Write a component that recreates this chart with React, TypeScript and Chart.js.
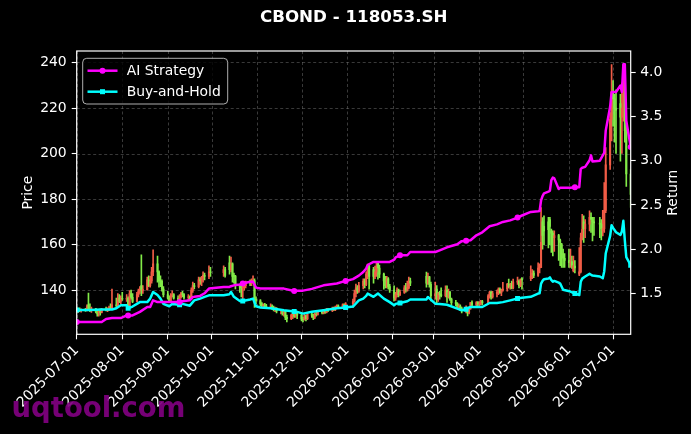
import React, { useEffect, useRef } from 'react';
import { Chart, registerables } from 'chart.js';
Chart.register(...registerables);

const FONT = "'DejaVu Sans', sans-serif";
const TITLE = 'CBOND - 118053.SH';
const WATERMARK = 'uqtool.com';
const LEFT_TITLE = 'Price';
const RIGHT_TITLE = 'Return';

const startDate = '2025-07-01';
const endDate = '2026-07-13';
const holidays = ['2025-10-01','2025-10-02','2025-10-03','2025-10-06','2025-10-07','2025-10-08','2026-01-01','2026-01-02','2026-02-16','2026-02-17','2026-02-18','2026-02-19','2026-02-20','2026-02-23','2026-04-06','2026-05-01','2026-05-04','2026-05-05','2026-06-19'];

// daily candles, one per trading day (grouped by month)
const opens = [
  131.5,130.8,131.5,130.9,131.2,131.0,133.5,131.5,131.0,131.8,130.5,129.8,130.8,130.2,131.5,131.2,131.8,132.2,131.8,133.5,133.0,136.5,135.0,
  136.4,136.0,136.4,133.0,138.5,136.8,135.0,138.0,139.5,142.0,140.0,140.2,144.5,142.0,144.0,148.0,151.5,148.0,144.0,143.8,140.5,
  138.0,136.5,135.3,137.5,138.0,136.5,136.0,137.2,138.5,138.0,136.8,137.0,136.0,140.0,142.0,141.5,144.5,144.0,145.5,146.5,146.0,148.0,
  147.7,149.0,152.0,149.0,151.5,146.5,146.0,142.0,141.3,141.0,141.3,142.0,143.5,143.0,144.0,144.2,136.0,
  135.3,134.0,133.2,133.5,133.0,132.8,133.0,132.2,131.5,132.0,130.8,131.0,129.8,130.8,128.0,127.5,129.0,129.5,128.5,130.0,
  129.0,127.2,127.0,128.8,127.5,129.5,129.0,128.0,129.5,129.2,130.5,130.0,130.8,130.2,131.5,131.0,132.0,131.5,132.5,133.0,132.5,133.5,133.0,
  134.0,135.0,138.5,141.0,139.5,142.0,144.0,142.5,147.0,151.0,149.0,146.0,148.0,152.0,149.7,147.0,144.0,142.0,145.0,141.5,
  140.0,136.4,138.0,140.0,138.0,139.0,141.0,140.0,141.0,144.0,146.0,143.0,145.8,142.5,
  137.5,140.5,136.0,138.5,138.0,137.5,140.0,137.0,139.0,136.0,134.5,134.0,132.7,133.0,131.8,130.8,132.0,130.0,132.0,134.5,133.5,134.5,
  133.8,134.0,135.0,134.5,137.5,139.0,137.0,138.5,139.0,140.5,139.0,140.0,140.5,142.5,141.5,142.0,141.0,143.5,144.0,142.0,145.0,
  145.0,146.0,147.5,146.5,149.7,150.0,170.0,168.0,170.0,171.0,166.0,165.0,163.0,164.0,162.0,160.0,156.0,154.0,
  153.0,152.0,152.5,148.5,150.5,147.0,148.0,163.0,170.0,167.0,169.0,172.0,171.0,170.0,169.5,169.0,166.0,167.0,175.0,195.0,215.0,
  227.0,224.0,220.0,222.0,216.0,220.0,232.0,210.0,191.0,
];
const highs = [
  132.5,132.0,132.2,131.8,132.0,133.5,138.7,134.0,132.5,132.0,131.5,131.0,131.8,132.0,132.5,132.2,133.0,134.0,140.4,136.5,138.5,138.0,137.5,
  139.0,138.0,137.0,139.8,140.0,138.5,139.0,140.5,141.5,155.5,142.0,145.7,146.3,146.0,150.0,157.7,155.0,148.5,146.3,144.5,141.5,
  139.5,137.5,138.5,139.7,138.5,137.5,138.0,139.0,139.5,138.5,138.0,137.5,141.0,143.5,143.0,145.7,145.5,146.0,148.0,147.5,150.7,150.0,
  150.7,150.0,155.0,154.5,152.0,147.5,146.5,142.5,142.5,141.9,143.0,144.0,144.5,145.0,146.3,145.0,137.0,
  135.8,134.5,134.0,134.2,133.8,134.0,133.5,133.0,132.5,132.3,131.5,131.2,131.0,131.0,129.0,129.5,130.0,130.0,130.5,130.2,
  129.5,128.0,129.5,129.0,130.0,130.4,129.5,130.0,130.5,131.0,131.0,131.5,131.5,132.0,132.0,132.5,132.5,133.0,133.5,133.5,134.0,134.0,134.5,
  136.0,140.0,142.6,142.0,143.4,145.0,145.0,148.0,151.4,151.4,150.0,150.5,152.1,152.3,151.0,147.5,146.0,146.0,145.5,142.5,
  141.9,139.0,141.0,140.5,140.0,142.0,143.0,144.0,145.7,145.3,147.9,147.5,146.0,143.5,
  143.5,142.0,139.0,139.5,141.0,141.9,141.9,140.5,139.5,136.5,135.5,134.5,134.0,133.5,132.5,133.1,132.5,132.5,134.5,135.3,135.0,135.0,
  135.0,135.5,135.5,138.0,139.5,139.5,139.5,140.0,141.0,141.0,140.5,143.4,143.0,144.8,143.0,144.0,144.8,145.7,144.5,145.0,145.5,
  150.7,149.0,148.5,152.0,151.5,176.3,171.9,172.6,172.0,172.0,166.8,166.0,166.0,164.5,162.4,160.5,158.0,156.0,
  158.0,158.0,155.0,155.0,153.0,158.7,165.0,173.3,172.6,171.0,174.8,174.0,172.0,172.0,172.0,171.0,175.0,187.2,202.6,218.0,239.1,
  232.0,226.0,228.0,226.0,231.0,239.0,233.0,214.2,193.0,
];
const lows = [
  130.0,130.2,130.5,130.3,130.6,130.8,131.0,130.5,130.2,130.0,128.6,128.5,129.0,130.0,130.8,130.5,131.0,131.5,131.5,132.5,132.8,134.5,134.0,
  135.5,135.0,132.5,132.8,136.0,134.5,134.8,137.0,138.5,137.5,138.5,140.0,141.5,141.3,143.0,146.3,143.5,141.3,141.5,139.5,137.0,
  136.0,135.0,135.0,137.0,136.0,135.3,135.5,136.5,137.0,136.0,135.8,135.5,135.8,139.0,140.5,141.0,142.5,142.0,143.5,144.5,145.0,146.0,
  146.0,145.7,147.0,148.0,143.5,143.0,140.5,139.0,137.0,136.0,140.0,141.0,142.0,142.0,143.0,132.4,134.0,
  133.0,132.5,132.0,132.5,131.8,132.0,131.5,130.8,130.5,130.0,129.5,129.0,128.5,127.0,126.0,127.0,127.5,128.0,128.0,127.5,
  126.5,126.0,126.8,126.5,127.0,128.0,127.0,127.5,128.5,129.0,129.5,129.5,129.8,130.0,130.5,130.5,131.0,131.0,132.0,131.8,132.0,132.5,132.5,
  132.4,134.6,137.0,138.5,139.0,140.5,141.0,142.0,145.0,140.4,143.0,145.0,146.0,144.8,145.5,140.4,141.0,141.0,140.5,139.0,
  135.3,135.5,137.0,137.0,137.5,138.5,139.1,139.5,140.5,142.0,141.3,142.5,141.3,135.3,
  136.0,134.5,135.0,136.0,137.0,137.0,134.6,136.5,135.5,133.5,133.0,132.0,131.5,131.0,130.0,130.0,128.7,129.5,131.5,133.0,132.5,133.0,
  133.0,133.5,133.5,134.0,136.5,136.0,136.5,137.0,138.0,138.5,137.5,139.5,139.5,141.0,140.4,140.5,140.5,142.5,141.0,141.5,140.4,
  144.1,145.0,145.5,146.0,147.5,149.9,158.0,160.0,158.5,160.0,156.5,155.0,157.0,153.0,150.7,150.0,150.0,150.0,
  150.0,150.0,149.5,148.0,147.5,146.3,147.5,162.0,160.9,163.0,166.0,165.3,161.6,164.0,163.0,162.0,163.8,165.3,174.0,193.0,205.5,
  212.0,205.0,200.0,196.7,200.0,214.2,205.0,185.6,176.3,
];
const closes = [
  130.8,131.5,130.9,131.2,131.0,132.8,131.5,131.0,131.8,130.5,129.5,130.8,130.2,131.5,131.2,131.8,132.2,131.8,133.5,133.0,136.5,135.0,136.4,
  136.0,136.4,133.0,138.5,136.8,135.0,138.0,139.5,140.0,140.0,140.2,144.5,142.0,144.0,148.0,151.5,148.0,144.0,143.8,140.5,138.0,
  136.5,135.3,137.5,138.0,136.5,136.0,137.2,138.5,138.0,136.8,137.0,136.0,140.0,142.0,141.5,144.5,144.0,145.5,146.5,146.0,148.0,147.7,
  149.0,146.5,149.0,151.5,146.0,146.0,142.0,141.3,141.0,141.3,142.0,143.5,143.0,144.0,144.2,136.0,135.3,
  134.0,133.2,133.5,133.0,132.8,133.0,132.2,131.5,132.0,130.8,131.0,129.8,130.8,128.0,127.5,129.0,129.5,128.5,130.0,129.0,
  127.2,127.0,128.8,127.5,129.5,129.0,128.0,129.5,129.2,130.5,130.0,130.8,130.2,131.5,131.0,132.0,131.5,132.5,133.0,132.5,133.5,133.0,134.0,
  135.0,138.5,141.0,139.5,142.0,144.0,142.5,147.0,149.7,146.0,146.0,148.0,150.5,149.7,147.0,144.0,142.0,145.0,141.5,140.0,
  136.4,138.0,140.0,138.0,139.0,141.0,140.0,141.0,144.0,143.0,143.0,145.8,142.5,137.5,
  138.3,136.0,138.5,138.0,137.5,140.0,137.0,139.0,136.0,134.5,134.0,132.7,133.0,131.8,130.8,132.0,130.0,132.0,134.5,133.5,134.5,133.8,
  134.0,135.0,134.5,137.5,139.0,137.0,138.5,139.0,140.5,139.0,140.0,140.5,142.5,141.5,142.0,141.0,143.5,144.0,142.0,144.5,144.5,
  146.0,147.5,146.5,149.7,150.0,161.0,164.0,166.0,166.6,168.0,165.0,163.0,164.0,162.0,161.0,156.0,154.0,153.0,
  152.0,152.5,151.0,150.5,149.7,148.0,163.0,166.6,167.0,169.0,172.0,171.0,170.0,169.5,169.0,167.0,167.0,175.0,195.0,215.0,227.0,
  224.0,220.0,219.0,216.0,220.0,232.0,210.0,191.0,182.0,
];

// strategy curves (right axis)
const lineDates = ['2025-07-01','2025-07-10','2025-07-18','2025-07-21','2025-07-25','2025-07-28','2025-07-31','2025-08-04','2025-08-05','2025-08-08','2025-08-13','2025-08-18','2025-08-20','2025-08-22','2025-08-25','2025-08-27','2025-08-29','2025-09-02','2025-09-04','2025-09-09','2025-09-11','2025-09-16','2025-09-18','2025-09-19','2025-09-23','2025-09-26','2025-09-29','2025-10-09','2025-10-13','2025-10-14','2025-10-16','2025-10-20','2025-10-22','2025-10-27','2025-10-29','2025-10-31','2025-11-03','2025-11-10','2025-11-19','2025-11-26','2025-11-28','2025-12-02','2025-12-08','2025-12-16','2025-12-25','2025-12-31','2026-01-05','2026-01-09','2026-01-12','2026-01-14','2026-01-15','2026-01-19','2026-01-22','2026-01-26','2026-01-30','2026-02-02','2026-02-03','2026-02-06','2026-02-11','2026-02-13','2026-02-24','2026-02-25','2026-03-02','2026-03-05','2026-03-10','2026-03-17','2026-03-20','2026-03-23','2026-03-26','2026-03-30','2026-04-03','2026-04-08','2026-04-13','2026-04-17','2026-04-22','2026-04-27','2026-04-30','2026-05-06','2026-05-11','2026-05-12','2026-05-13','2026-05-14','2026-05-15','2026-05-18','2026-05-19','2026-05-20','2026-05-21','2026-05-22','2026-05-25','2026-05-26','2026-05-28','2026-06-02','2026-06-05','2026-06-08','2026-06-09','2026-06-10','2026-06-12','2026-06-15','2026-06-16','2026-06-17','2026-06-22','2026-06-24','2026-06-25','2026-06-26','2026-06-29','2026-06-30','2026-07-01','2026-07-03','2026-07-06','2026-07-07','2026-07-08','2026-07-09','2026-07-10','2026-07-13'];
const aiReturn = [1.175,1.175,1.175,1.21,1.22,1.22,1.22,1.25,1.25,1.25,1.29,1.345,1.345,1.42,1.40,1.40,1.40,1.40,1.40,1.40,1.41,1.42,1.458,1.46,1.47,1.50,1.553,1.572,1.572,1.58,1.59,1.60,1.61,1.63,1.63,1.564,1.555,1.553,1.553,1.526,1.53,1.53,1.55,1.59,1.61,1.64,1.66,1.70,1.74,1.78,1.82,1.855,1.855,1.855,1.855,1.88,1.905,1.93,1.93,1.967,1.967,1.967,1.967,1.986,2.02,2.055,2.09,2.095,2.10,2.156,2.19,2.258,2.28,2.307,2.325,2.356,2.38,2.42,2.428,2.43,2.55,2.60,2.63,2.65,2.66,2.78,2.81,2.80,2.68,2.695,2.695,2.695,2.70,2.70,2.907,2.92,2.93,3.005,3.06,2.99,3.00,3.06,3.09,3.34,3.61,3.777,3.777,3.777,3.85,3.777,4.09,4.09,3.45,3.155];
const bhReturn = [1.31,1.31,1.316,1.316,1.316,1.33,1.364,1.364,1.33,1.35,1.40,1.40,1.44,1.515,1.48,1.44,1.38,1.353,1.38,1.37,1.38,1.36,1.40,1.42,1.44,1.46,1.477,1.477,1.49,1.515,1.46,1.413,1.413,1.43,1.44,1.353,1.34,1.33,1.308,1.295,1.29,1.27,1.29,1.308,1.33,1.34,1.35,1.42,1.44,1.47,1.497,1.46,1.497,1.44,1.40,1.364,1.38,1.39,1.41,1.43,1.43,1.458,1.383,1.38,1.37,1.327,1.308,1.32,1.345,1.345,1.345,1.39,1.39,1.40,1.42,1.44,1.45,1.46,1.497,1.50,1.61,1.64,1.66,1.666,1.68,1.65,1.63,1.64,1.62,1.61,1.54,1.52,1.497,1.48,1.63,1.666,1.69,1.72,1.71,1.70,1.69,1.67,1.75,1.95,2.15,2.27,2.24,2.19,2.16,2.20,2.32,2.10,1.91,1.817];
const markerDates = ['2025-07-01','2025-08-05','2025-09-09','2025-10-22','2025-11-26','2025-12-31','2026-02-06','2026-03-23','2026-04-27','2026-06-05','2026-07-13'];

const monthTicks = ['2025-07-01','2025-08-01','2025-09-01','2025-10-01','2025-11-01','2025-12-01','2026-01-01','2026-02-01','2026-03-01','2026-04-01','2026-05-01','2026-06-01','2026-07-01'];
const priceTicks = [140, 160, 180, 200, 220, 240];
const returnTicks = [1.5, 2.0, 2.5, 3.0, 3.5, 4.0];

const dayOf = (s: string) => {
  const [y, m, d] = s.split('-').map(Number);
  return Math.round((Date.UTC(y, m - 1, d) - Date.UTC(2025, 6, 1)) / 86400000);
};

function buildTradingDays(): string[] {
  const out: string[] = [];
  const hol = new Set(holidays);
  const [sy, sm, sd] = startDate.split('-').map(Number);
  const [ey, em, ed] = endDate.split('-').map(Number);
  const end = Date.UTC(ey, em - 1, ed);
  for (let t = Date.UTC(sy, sm - 1, sd); t <= end; t += 86400000) {
    const dt = new Date(t);
    const wd = dt.getUTCDay();
    if (wd === 0 || wd === 6) continue;
    const s = dt.toISOString().slice(0, 10);
    if (hol.has(s)) continue;
    out.push(s);
  }
  return out;
}

const UP = 'rgb(240,92,70)';
const DOWN = 'rgb(130,235,72)';
const MAGENTA = '#ff00ff';
const CYAN = '#00ffff';

export default function App() {
  const ref = useRef<HTMLCanvasElement | null>(null);
  useEffect(() => {
    const canvas = ref.current;
    if (!canvas) return;
    const days = buildTradingDays();
    const n = Math.min(days.length, closes.length);
    const xs = days.slice(0, n).map(dayOf);
    const colors = xs.map((_, i) => (closes[i] >= opens[i] ? UP : DOWN));
    const markerSet = new Set(markerDates.map(dayOf));
    const lx = lineDates.map(dayOf);
    const tickLabel = new Map(monthTicks.map((s) => [dayOf(s), s]));

    const bgPlugin = {
      id: 'bg',
      beforeDraw(chart: any) {
        const c = chart.ctx;
        c.save();
        c.fillStyle = '#000';
        c.fillRect(0, 0, chart.width, chart.height);
        const ca = chart.chartArea;
        c.fillStyle = '#fff';
        c.font = `bold 16.7px ${FONT}`;
        c.textAlign = 'center';
        c.textBaseline = 'middle';
        c.fillText(TITLE, (ca.left + ca.right) / 2, 18);
        // axis titles, both reading bottom-to-top
        c.font = `13.9px ${FONT}`;
        const cy = (ca.top + ca.bottom) / 2;
        [[28, LEFT_TITLE], [673.5, RIGHT_TITLE]].forEach(([x, t]) => {
          c.save();
          c.translate(x as number, cy);
          c.rotate(-Math.PI / 2);
          c.fillText(t as string, 0, 0);
          c.restore();
        });
        c.restore();
      },
      beforeDatasetsDraw(chart: any) {
        const c = chart.ctx;
        const ca = chart.chartArea;
        const sx = chart.scales.x;
        const sy = chart.scales.y;
        c.save();
        c.strokeStyle = 'rgba(120,120,120,0.6)';
        c.lineWidth = 0.8;
        c.setLineDash([3, 2.5]);
        monthTicks.forEach((s) => {
          const px = Math.round(sx.getPixelForValue(dayOf(s))) + 0.5;
          c.beginPath();
          c.moveTo(px, ca.top);
          c.lineTo(px, ca.bottom);
          c.stroke();
        });
        priceTicks.forEach((v) => {
          const py = Math.round(sy.getPixelForValue(v)) + 0.5;
          c.beginPath();
          c.moveTo(ca.left, py);
          c.lineTo(ca.right, py);
          c.stroke();
        });
        c.restore();
      },
      afterDatasetsDraw(chart: any) {
        const c = chart.ctx;
        const ca = chart.chartArea;
        c.save();
        c.strokeStyle = '#fff';
        c.lineWidth = 1.2;
        c.strokeRect(ca.left, ca.top, ca.right - ca.left, ca.bottom - ca.top);
        // legend
        const bx = 82.7, by = 58.3, bw = 145, bh = 45.7;
        c.beginPath();
        c.roundRect(bx, by, bw, bh, 4);
        c.fillStyle = 'rgba(0,0,0,0.8)';
        c.fill();
        c.strokeStyle = 'rgba(204,204,204,0.85)';
        c.lineWidth = 1;
        c.stroke();
        const entries = [
          { label: 'AI Strategy', color: MAGENTA, y: 70.7, shape: 'circle' },
          { label: 'Buy-and-Hold', color: CYAN, y: 91.7, shape: 'square' },
        ];
        entries.forEach((e) => {
          c.strokeStyle = e.color;
          c.lineWidth = 2.5;
          c.beginPath();
          c.moveTo(87.5, e.y);
          c.lineTo(117.5, e.y);
          c.stroke();
          c.fillStyle = e.color;
          if (e.shape === 'circle') {
            c.beginPath();
            c.arc(102.5, e.y, 3, 0, Math.PI * 2);
            c.fill();
          } else {
            c.fillRect(100, e.y - 2.5, 5, 5);
          }
          c.fillStyle = '#fff';
          c.font = `13.9px ${FONT}`;
          c.textAlign = 'left';
          c.textBaseline = 'middle';
          c.fillText(e.label, 126.7, e.y + 0.5);
        });
        c.restore();
      },
      afterDraw(chart: any) {
        const c = chart.ctx;
        c.save();
        c.fillStyle = 'rgba(128,0,128,0.92)';
        c.font = `bold 27.5px ${FONT}`;
        c.textAlign = 'left';
        c.textBaseline = 'alphabetic';
        c.fillText(WATERMARK, 11.5, 416.5);
        c.restore();
      },
    };

    const tickFont = { family: FONT, size: 13.9 };
    const tickGrid = { display: true, offset: false, drawOnChartArea: false, drawTicks: true, tickLength: 5, tickColor: '#fff', tickWidth: 1.1 };
    const chart = new Chart(canvas, {
      type: 'bar',
      data: {
        datasets: [
          {
            type: 'line',
            label: 'AI Strategy',
            yAxisID: 'y1',
            data: lx.map((x, i) => ({ x, y: aiReturn[i] })),
            borderColor: MAGENTA,
            backgroundColor: MAGENTA,
            borderWidth: 2.5,
            borderJoinStyle: 'round',
            borderCapStyle: 'round',
            pointStyle: 'circle',
            pointRadius: lx.map((x) => (markerSet.has(x) ? 3 : 0)),
            pointBorderWidth: 0,
            tension: 0,
            order: 0,
          } as any,
          {
            type: 'line',
            label: 'Buy-and-Hold',
            yAxisID: 'y1',
            data: lx.map((x, i) => ({ x, y: bhReturn[i] })),
            borderColor: CYAN,
            backgroundColor: CYAN,
            borderWidth: 2.5,
            borderJoinStyle: 'round',
            borderCapStyle: 'round',
            pointStyle: 'rect',
            pointRadius: lx.map((x) => (markerSet.has(x) ? 3.5 : 0)),
            pointBorderWidth: 0,
            tension: 0,
            order: 1,
          } as any,
          {
            type: 'bar',
            label: 'wick',
            yAxisID: 'y',
            data: xs.map((x, i) => ({ x, y: [lows[i], highs[i]] })),
            backgroundColor: colors,
            barThickness: 1,
            grouped: false,
            order: 3,
          } as any,
          {
            type: 'bar',
            label: 'body',
            yAxisID: 'y',
            data: xs.map((x, i) => ({ x, y: [Math.min(opens[i], closes[i]), Math.max(opens[i], closes[i])] })),
            backgroundColor: colors,
            barThickness: 1.4,
            grouped: false,
            order: 2,
          } as any,
        ],
      },
      options: {
        responsive: false,
        animation: false,
        devicePixelRatio: 1,
        events: [],
        layout: { padding: { top: 51, left: 0, right: 0, bottom: 0 } },
        plugins: { legend: { display: false }, tooltip: { enabled: false }, title: { display: false } },
        scales: {
          x: {
            type: 'linear',
            min: 0,
            max: dayOf(endDate),
            offset: false,
            afterBuildTicks: (s: any) => { s.ticks = monthTicks.map((d) => ({ value: dayOf(d) })); },
            afterFit: (s: any) => { s.height = 99.7; },
            ticks: {
              color: '#fff',
              font: tickFont,
              autoSkip: false,
              maxRotation: 45,
              minRotation: 45,
              padding: 3,
              callback: (v: any) => tickLabel.get(Number(v)) ?? '',
            },
            grid: tickGrid,
            border: { display: false },
          },
          y: {
            type: 'linear',
            position: 'left',
            min: 120.58,
            max: 245.05,
            afterBuildTicks: (s: any) => { s.ticks = priceTicks.map((v) => ({ value: v })); },
            afterFit: (s: any) => { s.width = 76.7; },
            ticks: { color: '#fff', font: tickFont, padding: 5, callback: (v: any) => String(v) },
            grid: tickGrid,
            border: { display: false },
          },
          y1: {
            type: 'linear',
            position: 'right',
            min: 1.036,
            max: 4.241,
            afterBuildTicks: (s: any) => { s.ticks = returnTicks.map((v) => ({ value: v })); },
            afterFit: (s: any) => { s.width = 60.3; },
            ticks: { color: '#fff', font: tickFont, padding: 4.5, callback: (v: any) => Number(v).toFixed(1) },
            grid: tickGrid,
            border: { display: false },
          },
        },
      } as any,
      plugins: [bgPlugin],
    });
    return () => chart.destroy();
  }, []);

  return (
    <div style={{ position: 'fixed', left: 0, top: 0, width: 691, height: 434, background: '#000' }}>
      <canvas ref={ref} width={691} height={434} style={{ display: 'block', width: 691, height: 434 }} />
    </div>
  );
}
